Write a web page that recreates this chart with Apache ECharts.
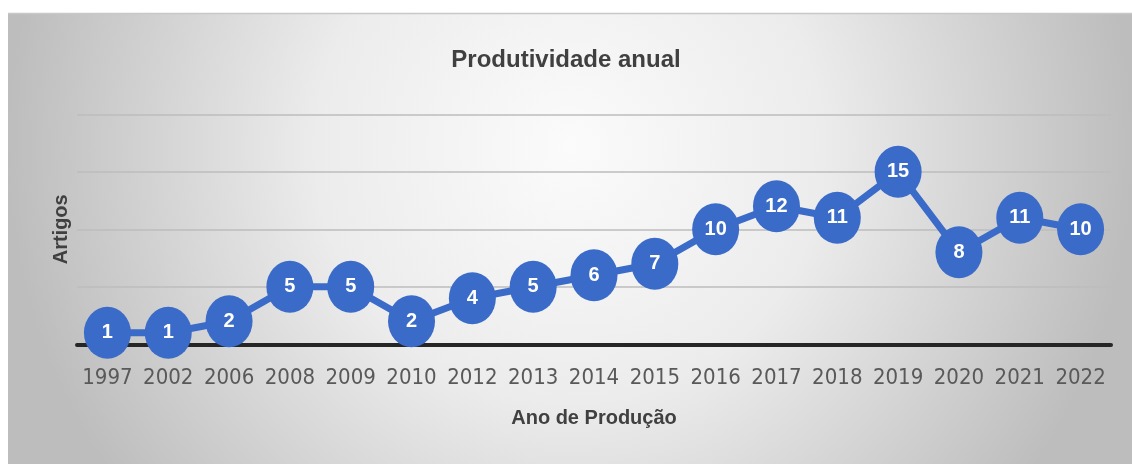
<!DOCTYPE html>
<html>
<head>
<meta charset="utf-8">
<script src="https://cdn.jsdelivr.net/npm/echarts@6/dist/echarts.min.js"></script>
<style>
html,body{margin:0;padding:0;background:#fff;}
#chart{width:1132px;height:464px;}
</style>
</head>
<body>
<div id="chart"></div>
<script>
const years = ['1997','2002','2006','2008','2009','2010','2012','2013','2014','2015','2016','2017','2018','2019','2020','2021','2022'];
const artigos = [1,1,2,5,5,2,4,5,6,7,10,12,11,15,8,11,10];
const titleText = 'Produtividade anual';
const xName = 'Ano de Produção';
const yName = 'Artigos';

const chart = echarts.init(document.getElementById('chart'), null, {renderer:'canvas'});
chart.setOption({
  animation:false,
  backgroundColor:'#ffffff',
  graphic:[{
    type:'rect', z:-10, silent:true,
    shape:{x:8,y:13,width:1124,height:451},
    style:{fill:new echarts.graphic.RadialGradient(0.5,0.3,1.25,[
      {offset:0,color:'#fbfbfb'},
      {offset:0.45,color:'#ececec'},
      {offset:1,color:'#bdbdbd'}
    ])}
  },{
    type:'line', z:-9, silent:true,
    shape:{x1:8,y1:13.5,x2:1132,y2:13.5},
    style:{stroke:'#c8c8c8',lineWidth:1.5}
  }],
  title:{
    text:titleText, left:'center', top:43,
    textStyle:{fontFamily:'Liberation Sans',fontWeight:'bold',fontSize:24,color:'#404040'}
  },
  grid:{left:77,right:21,top:114.3,bottom:119.7,containLabel:false},
  xAxis:{
    type:'category', data:years, boundaryGap:true,
    name:xName, nameLocation:'middle', nameGap:64,
    nameTextStyle:{fontFamily:'Liberation Sans',fontWeight:'bold',fontSize:20,color:'#404040'},
    axisLine:{show:true,lineStyle:{color:'#262626',width:4}},
    axisTick:{show:false},
    axisLabel:{interval:0,fontFamily:"'DejaVu Sans Condensed','Liberation Sans',sans-serif",fontSize:22,color:'#595959',margin:23}
  },
  yAxis:{
    type:'value', min:0, max:20, interval:5,
    name:yName, nameLocation:'middle', nameGap:6, nameRotate:90,
    nameTextStyle:{fontFamily:'Liberation Sans',fontWeight:'bold',fontSize:20,color:'#404040'},
    axisLine:{show:false}, axisTick:{show:false}, axisLabel:{show:false},
    splitLine:{show:true,lineStyle:{color:'#bcbcbc',width:1.5}}
  },
  series:[{
    type:'line', data:artigos,
    symbol:'circle', symbolSize:[47,52], showAllSymbol:true,
    lineStyle:{color:'#3a6bc8',width:7},
    itemStyle:{color:'#3a6bc8'},
    label:{show:true,position:'inside',color:'#ffffff',fontFamily:'Liberation Sans',fontWeight:'bold',fontSize:20},
    labelLayout:{hideOverlap:false},
    z:3
  }]
});
</script>
</body>
</html>
